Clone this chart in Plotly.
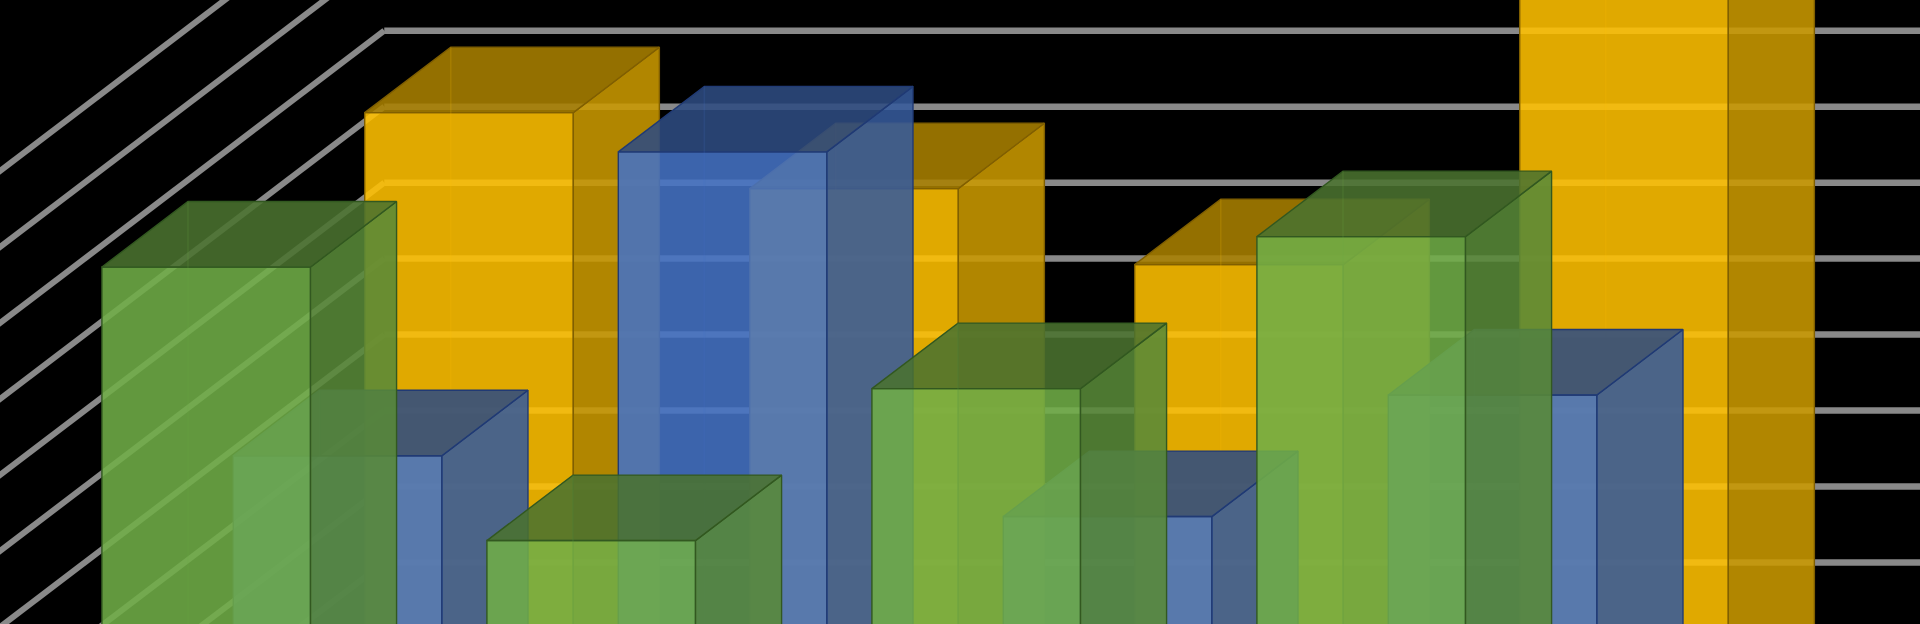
import plotly.graph_objects as go

# ---- data ----
categories = ["Category 1", "Category 2", "Category 3", "Category 4"]
series_green = [4.3, 2.5, 3.5, 4.5]   # front row
series_blue = [2.4, 4.4, 2.0, 2.8]    # middle row
series_gold = [4.0, 3.5, 3.0, 5.0]    # back row
grid_values = [0.5, 1.0, 1.5, 2.0, 2.5, 3.0, 3.5, 4.0, 4.5, 5.0]

# ---- oblique projection (category, row depth, value) -> axis units ----
KX = 131.4 / 385
KY = 100 / 152
BAR_W = 208.6 / 385
BAR_D = 0.655
WALL_D = 2.82
FRONT_D = -0.173


def project(cat, depth, val):
    return cat + depth * KX, val + depth * KY


def poly(points):
    pts = [project(*p) for p in points]
    pts.append(pts[0])
    return [p[0] for p in pts], [p[1] for p in pts]


rows = [
    (2, series_gold, (255, 192, 0), "rgb(128,95,0)"),
    (1, series_blue, (68, 114, 196), "rgb(32,58,116)"),
    (0, series_green, (112, 173, 71), "rgb(50,88,32)"),
]
ALPHA = 0.88
SIDE = 0.79
TOP = 0.66

fig = go.Figure()

# gridlines: side wall, then back wall
right_end = len(categories) - 0.5
sx, sy, bx, by = [], [], [], []
for v in grid_values:
    for p in [(-0.5, FRONT_D, v), (-0.5, WALL_D, v)]:
        x, y = project(*p)
        sx.append(x)
        sy.append(y)
    sx.append(None)
    sy.append(None)
    for p in [(-0.5, WALL_D, v), (right_end, WALL_D, v)]:
        x, y = project(*p)
        bx.append(x)
        by.append(y)
    bx.append(None)
    by.append(None)
fig.add_trace(go.Scatter(x=sx, y=sy, mode="lines", hoverinfo="skip",
                         line=dict(color="rgb(137,137,137)", width=6)))
fig.add_trace(go.Scatter(x=bx, y=by, mode="lines", hoverinfo="skip",
                         line=dict(color="rgb(137,137,137)", width=6.5)))


def rgba(c, k, a):
    return f"rgba({c[0]*k:.0f},{c[1]*k:.0f},{c[2]*k:.0f},{a})"


for depth, values, color, edge in rows:
    for i, v in enumerate(values):
        l, r = i - BAR_W / 2, i + BAR_W / 2
        d0, d1 = depth, depth + BAR_D
        faces = [
            ([(l, d0, 0), (r, d0, 0), (r, d0, v), (l, d0, v)], 1.0),
            ([(r, d0, 0), (r, d1, 0), (r, d1, v), (r, d0, v)], SIDE),
            ([(l, d0, v), (r, d0, v), (r, d1, v), (l, d1, v)], TOP),
        ]
        for pts, k in faces:
            x, y = poly(pts)
            fig.add_trace(go.Scatter(x=x, y=y, mode="lines", fill="toself",
                                     fillcolor=rgba(color, k, ALPHA),
                                     line=dict(color=edge, width=1.4),
                                     hoverinfo="skip"))
        x, y = poly([(l, d1, v), (l, d1, 0)])
        fig.add_trace(go.Scatter(x=x[:2], y=y[:2], mode="lines", hoverinfo="skip",
                                 line=dict(color=rgba(color, 1.0, 0.16), width=1.6)))

fig.update_layout(
    width=1920, height=624, showlegend=False,
    margin=dict(l=0, r=0, t=0, b=0),
    paper_bgcolor="black", plot_bgcolor="black",
    xaxis=dict(visible=False, range=[-0.5356, 4.4514], fixedrange=True),
    yaxis=dict(visible=False, range=[1.951, 6.057], fixedrange=True),
)
fig.write_html("out.html", config={"displayModeBar": False},
               post_script="document.body.style.margin='0';document.body.style.background='black';")
